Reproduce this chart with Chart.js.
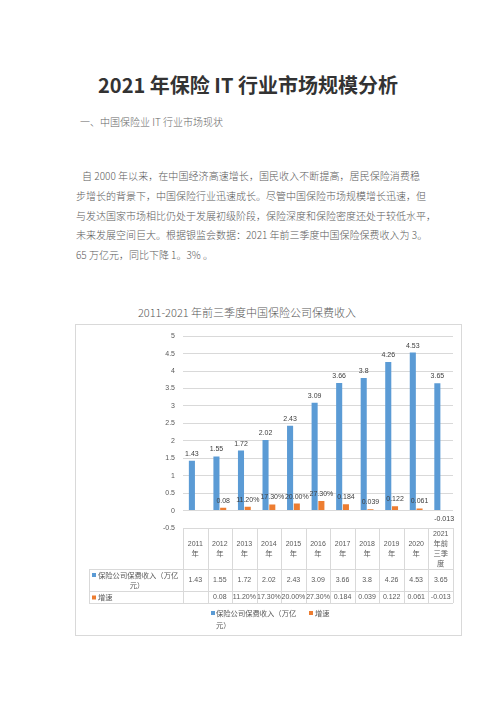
<!DOCTYPE html>
<html>
<head>
<meta charset="utf-8">
<script src="https://cdn.jsdelivr.net/npm/chart.js@4.4.0/dist/chart.umd.min.js"></script>
<style>
  body { margin: 0; width: 496px; height: 702px; background: #fff; position: relative; overflow: hidden;
         font-family: "Noto Sans CJK SC", "Liberation Sans", sans-serif; }
  .abs { position: absolute; white-space: nowrap; }
  .title { left: 0; width: 496px; top: 73px; line-height: 24px; font-size: 20px; font-weight: bold; color: #333; text-align: center; }
  .sub { left: 80px; top: 115px; line-height: 14px; font-size: 10px; color: #666; font-weight: 300; }
  .p { line-height: 14px; font-size: 10px; color: #5a5a5a; font-weight: 300; }
  .j { text-align: justify; text-align-last: justify; }
  .ctitle { left: 0; width: 494px; top: 305px; line-height: 14px; font-size: 11px; color: #595959; font-weight: 300; text-align: center; }
  .frame { left: 75px; top: 324px; width: 387px; height: 312px; border: 1px solid #d9d9d9; box-sizing: border-box; }
  #chart { position: absolute; left: 75px; top: 324px; }
</style>
</head>
<body>
<div class="abs title">2021 年保险 IT 行业市场规模分析</div>
<div class="abs sub">一、中国保险业 IT 行业市场现状</div>
<div class="abs p j" style="left:82px;top:169px;width:338px">自 2000 年以来，在中国经济高速增长，国民收入不断提高，居民保险消费稳</div>
<div class="abs p j" style="left:76px;top:189px;width:344px">步增长的背景下，中国保险行业迅速成长。尽管中国保险市场规模增长迅速，但</div>
<div class="abs p j" style="left:76px;top:209px;width:347px">与发达国家市场相比仍处于发展初级阶段，保险深度和保险密度还处于较低水平，</div>
<div class="abs p j" style="left:76px;top:228px;width:342px">未来发展空间巨大。根据银监会数据：2021 年前三季度中国保险保费收入为 3。</div>
<div class="abs p" style="left:76px;top:248px">65 万亿元，同比下降 1。3% 。</div>

<div class="abs ctitle">2011-2021 年前三季度中国保险公司保费收入</div>
<div class="abs frame"></div>
<canvas id="chart" width="387" height="312"></canvas>

<script>
// 数据
const categories = ['2011年', '2012年', '2013年', '2014年', '2015年', '2016年', '2017年', '2018年', '2019年', '2020年', '2021年前三季度'];
const income = [1.43, 1.55, 1.72, 2.02, 2.43, 3.09, 3.66, 3.8, 4.26, 4.53, 3.65];
const incomeLabels = ['1.43', '1.55', '1.72', '2.02', '2.43', '3.09', '3.66', '3.8', '4.26', '4.53', '3.65'];
const growth = [null, 0.08, 0.112, 0.173, 0.2, 0.273, 0.184, 0.039, 0.122, 0.061, -0.013];
const growthLabels = ['', '0.08', '11.20%', '17.30%', '20.00%', '27.30%', '0.184', '0.039', '0.122', '0.061', '-0.013'];
const yTicks = ['-0.5', '0', '0.5', '1', '1.5', '2', '2.5', '3', '3.5', '4', '4.5', '5'];
const seriesNames = ['保险公司保费收入（万亿元）', '增速'];

const blue = '#5B9BD5';
const orange = '#ED7D31';
const textColor = '#595959';
const gridColor = '#d9d9d9';
const numFont = '7px "Liberation Sans", sans-serif';
const cjkFont = '7.3px "Noto Sans CJK SC", sans-serif';

// 柱子上的数值
const labelPlugin = {
    id: 'barLabels',
    afterDatasetsDraw(chart) {
        const ctx = chart.ctx;
        ctx.save();
        ctx.font = numFont;
        ctx.fillStyle = '#404040';
        ctx.textAlign = 'center';
        ctx.textBaseline = 'middle';
        chart.data.datasets.forEach((ds, di) => {
            const texts = di === 0 ? incomeLabels : growthLabels;
            chart.getDatasetMeta(di).data.forEach((el, i) => {
                const v = ds.data[i];
                if (v === null) return;
                const y = v < 0 ? el.y + 8 : el.y - 7;
                ctx.fillText(texts[i], el.x, y);
            });
        });
        ctx.restore();
    }
};

// 数据表 + 图例
function splitHeader(s) {
    const lines = [s.slice(0, 4)];
    for (let i = 4; i < s.length; i += 2) lines.push(s.slice(i, i + 2));
    return lines;
}

const tablePlugin = {
    id: 'dataTable',
    afterDraw(chart) {
        const ctx = chart.ctx;
        const xs = chart.scales.x;
        const area = chart.chartArea;
        const n = categories.length;
        const colW = (area.right - area.left) / n;
        const tableLeft = 14;
        const r0 = area.bottom, r1 = r0 + 41, r2 = r1 + 22, r3 = r2 + 12;

        ctx.save();
        ctx.strokeStyle = gridColor;
        ctx.lineWidth = 1;
        ctx.beginPath();
        [r1, r2, r3].forEach(y => {
            ctx.moveTo(tableLeft, Math.round(y) + 0.5);
            ctx.lineTo(area.right, Math.round(y) + 0.5);
        });
        for (let k = 0; k <= n; k++) {
            const x = Math.round(area.left + k * colW) + 0.5;
            ctx.moveTo(x, r0);
            ctx.lineTo(x, r3);
        }
        ctx.moveTo(tableLeft + 0.5, r1);
        ctx.lineTo(tableLeft + 0.5, r3);
        ctx.stroke();

        ctx.fillStyle = textColor;
        ctx.textAlign = 'center';
        ctx.textBaseline = 'middle';
        categories.forEach((c, i) => {
            const cx = xs.getPixelForValue(i);
            const lines = splitHeader(c);
            const step = 9.6;
            const start = (r0 + r1) / 2 - (lines.length - 1) * step / 2;
            lines.forEach((ln, j) => {
                ctx.font = /^\d/.test(ln) ? numFont : cjkFont;
                ctx.fillText(ln, cx, start + j * step);
            });
            ctx.font = numFont;
            ctx.fillText(incomeLabels[i], cx, (r1 + r2) / 2);
            ctx.fillText(growthLabels[i], cx, (r2 + r3) / 2 + 0.5);
        });

        // 表格左列图例
        ctx.font = cjkFont;
        ctx.textAlign = 'left';
        ctx.fillStyle = blue;
        ctx.fillRect(17, (r1 + r2) / 2 - 7, 4, 4);
        ctx.fillStyle = textColor;
        ctx.fillText(seriesNames[0].slice(0, 11), 23, (r1 + r2) / 2 - 5);
        ctx.textAlign = 'center';
        ctx.fillText(seriesNames[0].slice(11), 62, (r1 + r2) / 2 + 5);
        ctx.textAlign = 'left';
        ctx.fillStyle = orange;
        ctx.fillRect(17, (r2 + r3) / 2 - 1.5, 4, 4);
        ctx.fillStyle = textColor;
        ctx.fillText(seriesNames[1], 23, (r2 + r3) / 2 + 0.5);

        // 底部图例
        const ly = 289;
        ctx.fillStyle = blue;
        ctx.fillRect(136, ly - 2, 4, 4);
        ctx.fillStyle = orange;
        ctx.fillRect(234, ly - 2, 4, 4);
        ctx.fillStyle = textColor;
        ctx.fillText(seriesNames[0].slice(0, 11), 141, ly);
        ctx.fillText(seriesNames[0].slice(11), 141, ly + 12);
        ctx.fillText(seriesNames[1], 240, ly);
        ctx.restore();
    }
};

const chart = new Chart(document.getElementById('chart'), {
    type: 'bar',
    data: {
        labels: categories,
        datasets: [{
            label: seriesNames[0],
            data: income,
            backgroundColor: blue,
            categoryPercentage: 0.55,
            barPercentage: 0.9
        }, {
            label: seriesNames[1],
            data: growth,
            backgroundColor: orange,
            categoryPercentage: 0.55,
            barPercentage: 0.9
        }]
    },
    options: {
        responsive: false,
        animation: false,
        layout: { padding: { left: 78, right: 9, top: 8, bottom: 108 } },
        plugins: {
            legend: { display: false },
            title: { display: false },
            tooltip: { enabled: false }
        },
        scales: {
            x: { display: false },
            y: {
                min: -0.5,
                max: 5,
                afterFit: s => { s.width = 30; },
                afterBuildTicks: s => { s.ticks = yTicks.map(t => ({ value: parseFloat(t) })); },
                border: { display: false },
                grid: { color: gridColor, drawTicks: false },
                ticks: {
                    padding: 8,
                    color: textColor,
                    font: { family: '"Liberation Sans", sans-serif', size: 7 },
                    callback: (v, i) => yTicks[i]
                }
            }
        }
    },
    plugins: [labelPlugin, tablePlugin]
});
</script>
</body>
</html>
